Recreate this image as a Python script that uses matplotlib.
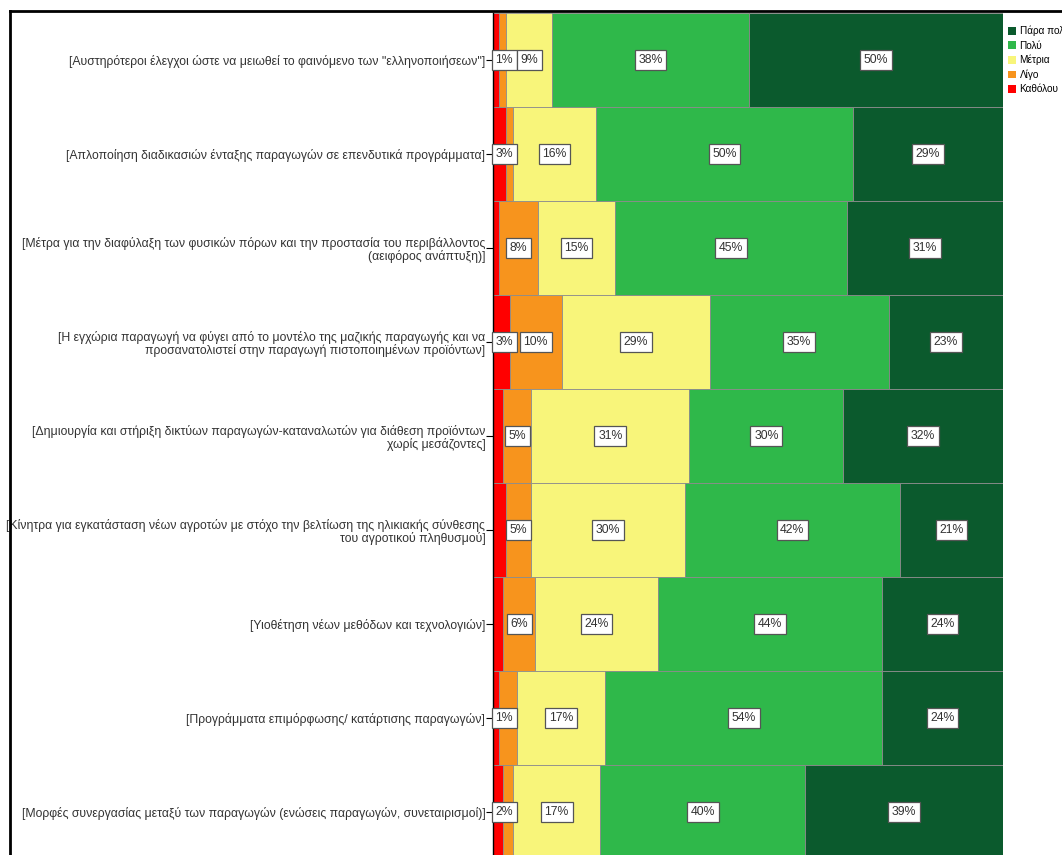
import matplotlib.pyplot as plt
from matplotlib.patches import Patch
from matplotlib.lines import Line2D

plt.rcParams['font.family'] = ['Liberation Sans', 'DejaVu Sans']

categories = [
    '[Αυστηρότεροι έλεγχοι ώστε να μειωθεί το φαινόμενο των "ελληνοποιήσεων"]',
    '[Απλοποίηση διαδικασιών ένταξης παραγωγών σε επενδυτικά προγράμματα]',
    '[Μέτρα για την διαφύλαξη των φυσικών πόρων και την προστασία του περιβάλλοντος\n(αειφόρος ανάπτυξη)]',
    '[Η εγχώρια παραγωγή να φύγει από το μοντέλο της μαζικής παραγωγής και να\nπροσανατολιστεί στην παραγωγή πιστοποιημένων προϊόντων]',
    '[Δημιουργία και στήριξη δικτύων παραγωγών-καταναλωτών για διάθεση προϊόντων\nχωρίς μεσάζοντες]',
    '[Κίνητρα για εγκατάσταση νέων αγροτών με στόχο την βελτίωση της ηλικιακής σύνθεσης\nτου αγροτικού πληθυσμού]',
    '[Υιοθέτηση νέων μεθόδων και τεχνολογιών]',
    '[Προγράμματα επιμόρφωσης/ κατάρτισης παραγωγών]',
    '[Μορφές συνεργασίας μεταξύ των παραγωγών (ενώσεις παραγωγών, συνεταιρισμοί)]',
]

levels = ['Καθόλου', 'Λίγο', 'Μέτρια', 'Πολύ', 'Πάρα πολύ']
colors = ['#ff0000', '#f7941d', '#f8f57a', '#2fb84a', '#0b5a2d']

# percentages per level (one list per level, same order as categories)
katholou = [1.2, 2.5, 1.2, 3.3, 2.0, 2.5, 2.0, 1.2, 2.0]
ligo = [1.4, 1.4, 7.6, 10.2, 5.5, 4.9, 6.3, 3.5, 2.0]
metria = [9.0, 16.3, 15.1, 29.0, 31.0, 30.2, 24.0, 17.3, 17.0]
poly = [38.6, 50.4, 45.5, 35.1, 30.2, 42.2, 44.0, 54.3, 40.2]
para_poly = [49.8, 29.4, 30.6, 22.4, 31.3, 20.2, 23.7, 23.7, 38.8]

# labels shown on each segment ('' = hidden)
lab_katholou = ['1%', '3%', '', '3%', '', '', '', '1%', '2%']
lab_ligo = ['', '', '8%', '10%', '5%', '5%', '6%', '', '']
lab_metria = ['9%', '16%', '15%', '29%', '31%', '30%', '24%', '17%', '17%']
lab_poly = ['38%', '50%', '45%', '35%', '30%', '42%', '44%', '54%', '40%']
lab_para_poly = ['50%', '29%', '31%', '23%', '32%', '21%', '24%', '24%', '39%']

series = [katholou, ligo, metria, poly, para_poly]
series_labels = [lab_katholou, lab_ligo, lab_metria, lab_poly, lab_para_poly]

fig = plt.figure(figsize=(10.62, 8.55), dpi=100)
ax = fig.add_axes([493 / 1062, 1 - 859 / 855, 510 / 1062, 846 / 855])

y = list(range(len(categories)))
left = [0.0] * len(categories)
for vals, labs, col in zip(series, series_labels, colors):
    ax.barh(y, vals, left=left, height=1.0, color=col,
            edgecolor='#8c8c8c', linewidth=0.6)
    for i, (v, lab) in enumerate(zip(vals, labs)):
        if lab:
            xc = max(left[i] + v / 2, 2.2)
            ax.text(xc, i, lab, ha='center', va='center', fontsize=8.8,
                    color='#333333',
                    bbox=dict(boxstyle='square,pad=0.3', fc='white',
                              ec='#555555', lw=0.9))
    left = [l + v for l, v in zip(left, vals)]

ax.set_xlim(0, 100)
ax.set_ylim(len(categories) - 0.5, -0.5)
ax.set_yticks(y)
ax.set_yticklabels(categories, fontsize=8.85, linespacing=1.05, color='#333333')
ax.tick_params(axis='y', length=5, width=0.8, pad=0.5)
ax.set_xticks([])
for s in ['top', 'right', 'bottom']:
    ax.spines[s].set_visible(False)
ax.spines['left'].set_linewidth(1.0)

# outer frame
fig.add_artist(Line2D([10 / 1062, 10 / 1062], [0, 1 - 11 / 855],
                      transform=fig.transFigure, color='black', lw=2))
fig.add_artist(Line2D([10 / 1062, 1], [1 - 11 / 855, 1 - 11 / 855],
                      transform=fig.transFigure, color='black', lw=2))

handles = [Patch(facecolor=c, edgecolor='none') for c in colors[::-1]]
fig.legend(handles, levels[::-1], loc='upper left',
           bbox_to_anchor=(1004 / 1062, 1 - 22 / 855), frameon=False,
           fontsize=7.2, handlelength=0.8, handleheight=0.8,
           handletextpad=0.35, labelspacing=0.42, borderaxespad=0)

fig.savefig('out.png', dpi=100)
